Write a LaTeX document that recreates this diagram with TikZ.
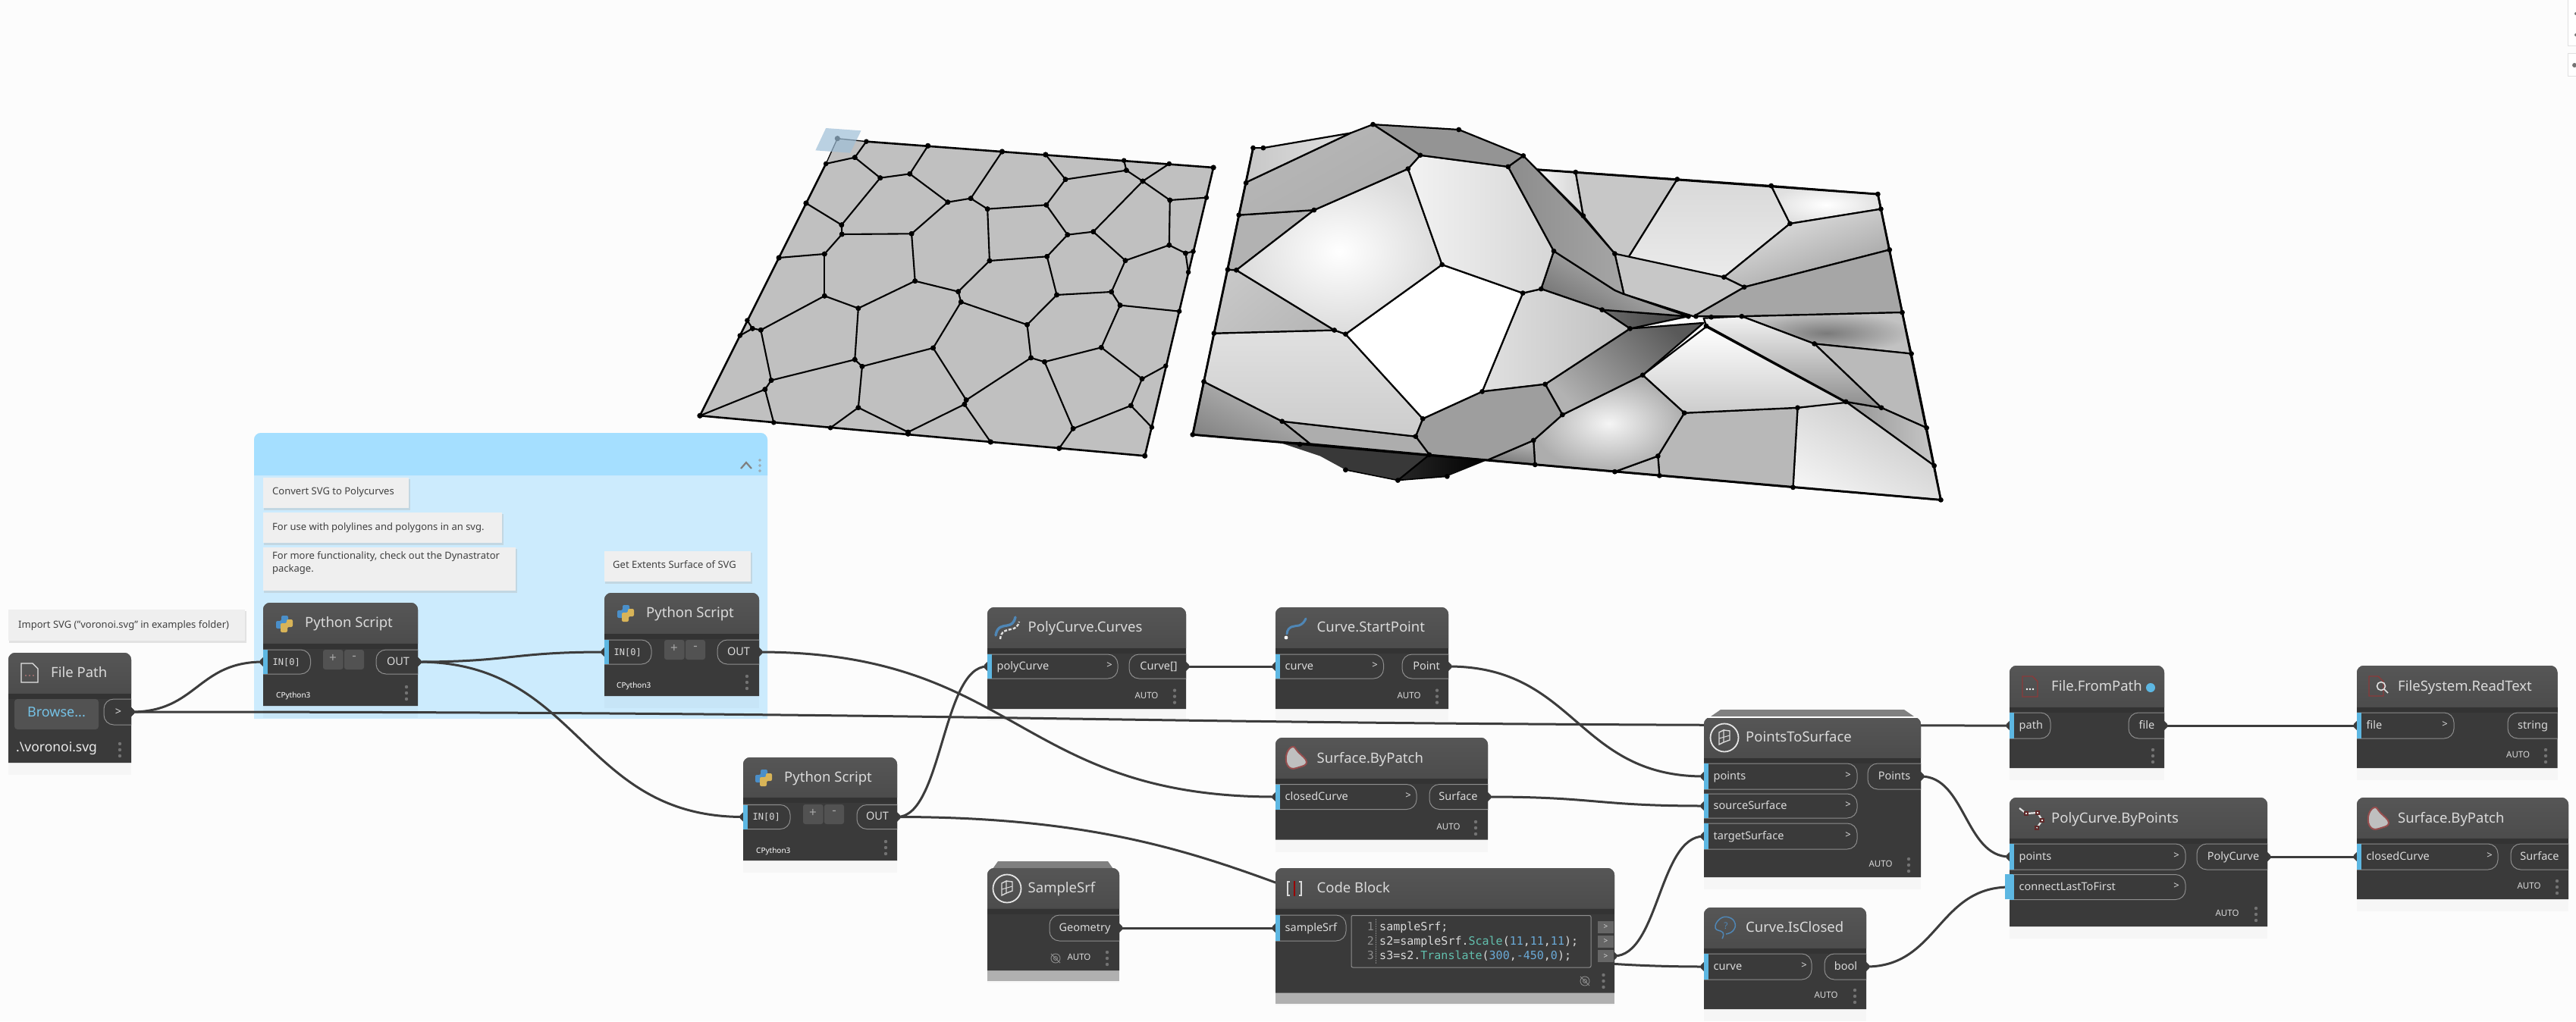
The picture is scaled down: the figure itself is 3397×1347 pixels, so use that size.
\documentclass[tikz,border=0pt]{standalone}
\usepackage{fontspec}
\setmainfont{Noto Sans}
\setmonofont{DejaVu Sans Mono}
\usetikzlibrary{calc}
\pgfdeclarelayer{bg}\pgfdeclarelayer{wirelayer}
\pgfsetlayers{bg,wirelayer,main}
\definecolor{bgc}{HTML}{FCFCFC}
\definecolor{bodyc}{HTML}{3A3A3A}
\definecolor{hdrA}{HTML}{565656}
\definecolor{hdrB}{HTML}{4C4C4C}
\definecolor{stripc}{HTML}{333333}
\definecolor{portblue}{HTML}{5DB7E2}
\definecolor{pillc}{HTML}{8E8E8E}
\definecolor{wirec}{HTML}{3C3C3C}
\definecolor{grpH}{HTML}{A5DFFF}
\definecolor{grpB}{HTML}{CCEBFD}
\definecolor{notec}{HTML}{EFEFEF}
\definecolor{txtc}{HTML}{DADADA}
\definecolor{kwc}{HTML}{62C0AE}
\definecolor{numc}{HTML}{6AAAD8}
\definecolor{pyb}{HTML}{4A8FC9}
\definecolor{pyy}{HTML}{D8B458}
\definecolor{icred}{HTML}{8A3A3A}
\definecolor{icblue}{HTML}{4F86B5}
\definecolor{bandc}{HTML}{B5B5B5}
\definecolor{tabc}{HTML}{808080}
\definecolor{meshfill}{HTML}{C0C0C0}
\definecolor{plane}{HTML}{9FBFD8}
\tikzset{
  ttl/.style={font=\fontsize{18.5}{23}\selectfont,text=txtc,inner sep=0pt,anchor=mid west,yshift=-2.5pt},
  porttxt/.style={font=\fontsize{14.5}{17}\selectfont,text=txtc,inner sep=0pt,yshift=-1.5pt},
  chevtxt/.style={font=\fontsize{13}{15}\bfseries\selectfont,text=txtc,inner sep=0pt,anchor=mid},
  autotxt/.style={font=\fontsize{11.5}{14}\selectfont,text=txtc,inner sep=0pt,anchor=mid},
  cptxt/.style={font=\fontsize{10}{12}\bfseries\selectfont,text=white,inner sep=0pt,anchor=mid west},
  notetxt/.style={font=\fontsize{13}{17}\selectfont,text=black!75,inner sep=0pt,anchor=mid west,align=left,yshift=-1pt},
  codetxt/.style={font=\fontsize{15}{18}\ttfamily\selectfont,text=txtc,inner sep=0pt,anchor=mid west,yshift=-1pt},
  pill/.style={draw=pillc,line width=1pt},
  wire/.style={draw=wirec,line width=3pt},
  mesh/.style={draw=black,line width=2.2pt,line join=round},
  meshthin/.style={draw=black,line width=1.6pt,line join=round},
}
\newcommand\dblock[6]{%
  \fill[black,opacity=.025] (#2,#6) rectangle (#3,{#6+16});
  \fill[bodyc] (#2,#6) [rounded corners=9pt] -- (#2,#4) -- (#3,#4) [sharp corners] -- (#3,#6) -- cycle;
  \path[top color=hdrA,bottom color=hdrB] (#2,#5) [rounded corners=9pt] -- (#2,#4) -- (#3,#4) [sharp corners] -- (#3,#5) -- cycle;
  \fill[stripc] (#2,#5) rectangle (#3,{#5+7});
  \node[inner sep=0pt,minimum width={(#3-#2)*1pt},minimum height={(#6-#4)*1pt}] (#1) at ({(#2+#3)/2},{(#4+#6)/2}) {};
}
\newcommand\inport[6]{%
  \draw[pill,fill=bodyc] (#2,{#4-#5}) [rounded corners=13pt] -- (#3,{#4-#5}) -- (#3,{#4+#5}) [sharp corners] -- (#2,{#4+#5});
  \fill[portblue] (#2,{#4-#5}) rectangle ({#2+5.5},{#4+#5});
  \node[inner sep=0pt,minimum width={(#3-#2)*1pt},minimum height={2*#5*1pt}] (#1) at ({(#2+#3)/2},#4) {};
  \node[porttxt,anchor=mid west] (#1-l) at ({#2+12.5},#4) {#6};
}
\newcommand\outport[7]{%
  \draw[pill,fill=bodyc] (#3,{#4-#5}) [rounded corners=13pt] -- (#2,{#4-#5}) -- (#2,{#4+#5}) [sharp corners] -- (#3,{#4+#5});
  \node[inner sep=0pt,minimum width={(#3-#2)*1pt},minimum height={2*#5*1pt}] (#1) at ({(#2+#3)/2},#4) {};
  \node[porttxt,anchor=mid] (#1-l) at (#7,#4) {#6};
}
\newcommand\chev[2]{\node[chevtxt] at (#1,#2) {>};}
\newcommand\tdots[2]{\fill[black!55] (#1,{#2-8}) circle (2.2pt) (#1,#2) circle (2.2pt) (#1,{#2+8}) circle (2.2pt);}
\newcommand\autol[2]{\node[autotxt] at (#1,#2) {AUTO};}
\newcommand\eyei[2]{\draw[black!45,line width=.9pt] (#1,#2) circle (6pt) (#1,#2) circle (2.5pt) ({#1-6},{#2-6}) -- ({#1+6},{#2+6});}
\newcommand\pmbtn[2]{% x y-top
  \fill[black!68,rounded corners=3pt] (#1,#2) rectangle ({#1+26.5},{#2+26});
  \fill[black!68,rounded corners=3pt] ({#1+28},#2) rectangle ({#1+54},{#2+26});
  \node[font=\fontsize{17}{18}\selectfont,text=black!35,inner sep=0pt] at ({#1+13},{#2+11}) {+};
  \node[font=\fontsize{17}{18}\selectfont,text=black!35,inner sep=0pt] at ({#1+41},{#2+11}) {-};
}
\newcommand\pyicon[2]{\begin{scope}[shift={(#1,#2)}]
  \fill[pyb,rounded corners=2pt] (-4,-11)--(5,-11)--(5,1)--(-3,1)--(-3,6)--(-11,6)--(-11,-4)--(-4,-4)--cycle;
  \fill[pyy,rounded corners=2pt] (4,11)--(-5,11)--(-5,-1)--(3,-1)--(3,-6)--(11,-6)--(11,4)--(4,4)--cycle;
\end{scope}}
\newcommand\ringicon[2]{\begin{scope}[shift={(#1,#2)}]
  \draw[black!10,line width=1.8pt] (0,0) circle (18.5pt);
  \draw[black!15,line width=1.4pt] (-7,-7)--(-1,-10)--(-1,6)--(-7,9)--cycle;
  \draw[black!15,line width=1.4pt] (-1,-10)--(7,-9)--(7,3)--(-1,6);
  \draw[black!15,line width=1pt] (-7,1)--(7,-3);
\end{scope}}
\newcommand\patchicon[2]{\begin{scope}[shift={(#1,#2)}]
  \draw[icred!90,fill=black!25,line width=2pt] plot[smooth cycle,tension=.8] coordinates {(-12,-3) (-4,-15) (4,-8) (15,5) (5,12) (-8,12)};
\end{scope}}
\newcommand\wirex[2]{%
  \draw[wire] let \p1=(#1),\p2=(#2) in (\p1) .. controls ({(\x1+\x2)/2},\y1) and ({(\x1+\x2)/2},\y2) .. (\p2);
  \fill[wirec] let \p1=(#1) in (\x1,\y1) ++(0pt,6pt) -- ++(4pt,-4pt) -- ++(0pt,-4pt) -- ++(-4pt,-4pt) -- cycle;
  \fill[wirec] let \p2=(#2) in (\x2,\y2) ++(0pt,6pt) -- ++(-4pt,-4pt) -- ++(0pt,-4pt) -- ++(4pt,-4pt) -- cycle;
}
\newcommand\notebox[4]{%
  \fill[black!30,opacity=.35] ({#1+1},{#3+2}) rectangle ({#2+2},{#4+3});
  \fill[notec] (#1,#3) rectangle (#2,#4);
}
\newcommand\celld[2]{\path[#1] #2 -- cycle; \draw[mesh] #2 -- cycle;}
\begin{document}
\begin{tikzpicture}[x=1pt,y=-1pt,line cap=butt]
\useasboundingbox (0,0) rectangle (3397,1347);
\begin{pgfonlayer}{bg}
\fill[bgc] (0,0) rectangle (3397,1347);
% top right UI stubs
\draw[black!12,fill=white,line width=1pt] (3397,-2) -- (3386,-2) -- (3386,60) -- (3397,60);
\draw[black!12,fill=white,line width=1pt] (3397,70) -- (3386,70) -- (3386,100) -- (3397,100);
\fill[black!55] (3397,18) circle (2pt) (3397,46) circle (2pt) (3395,86) circle (3pt);
% group
\fill[grpB] (335,948) [rounded corners=9pt] -- (335,571) -- (1012,571) [sharp corners] -- (1012,948) -- cycle;
\fill[grpH] (335,627) [rounded corners=9pt] -- (335,571) -- (1012,571) [sharp corners] -- (1012,627) -- cycle;
\draw[black!50,line width=2.2pt] (977,618) -- (984,610) -- (991,618);
\draw[black!40,line width=.7pt] (1002,607) circle (1.4pt) (1002,614) circle (1.4pt) (1002,621) circle (1.4pt);
\end{pgfonlayer}

%%%% LEFT FLAT SURFACE
\begin{scope}[shift={(900,140)},x=0.4591pt,y=-0.3333pt]
\fill[meshfill] (445,128)--(1525,243)--(1328,1384)--(50,1225)--(412,228)--cycle;
\draw[black,line width=2.6pt,line join=round] (528,140)--(1525,243)--(1328,1384)--(50,1225)--(412,228);
\draw[black,line width=1.3pt] (528,140)--(445,128)--(412,228);
\foreach \ax/\ay/\bx/\by in {528/140/495/203,495/203/412/228,495/203/568/284,568/284/653/268,705/157/653/268,653/268/762/380,762/380/828/365,828/365/918/180,828/365/876/407,876/407/1045/391,1045/391/1100/290,1043/192/1100/290,1100/290/1275/254,1268/215/1275/254,1275/254/1322/297,1398/228/1322/297,1322/297/1400/372,1400/372/1505/362,1400/372/1398/550,1322/297/1180/497,1180/497/1106/509,1045/391/1106/509,1106/509/1047/595,1047/595/882/612,876/407/882/612,882/612/792/734,792/734/668/692,668/692/658/505,658/505/458/507,458/507/457/470,457/470/568/284,457/470/355/384,658/505/762/380,458/507/408/585,408/585/277/600,408/585/408/751,408/751/505/800,505/800/668/692,408/751/225/886,225/886/201/880,201/880/186/848,201/880/165/908,225/886/255/1085,255/1085/495/1003,505/800/495/1003,495/1003/516/1030,516/1030/720/957,720/957/800/775,800/775/792/734,800/775/990/865,990/865/1075/747,1075/747/1047/595,1075/747/1232/735,1232/735/1272/611,1272/611/1180/497,1272/611/1398/550,1398/550/1445/582,1445/582/1467/575,1445/582/1453/657,1232/735/1257/788,1257/788/1427/812,1257/788/1203/955,1203/955/1040/1012,1040/1012/1001/996,990/865/1001/996,1001/996/815/1163,815/1163/720/957,815/1163/810/1180,810/1180/648/1290,648/1290/505/1193,505/1193/516/1030,505/1193/425/1273,810/1180/885/1329,1040/1012/1122/1276,1122/1276/1082/1354,1122/1276/1288/1185,1288/1185/1348/1271,1288/1185/1320/1079,1320/1079/1388/1028,1320/1079/1203/955,255/1085/237/1121,237/1121/50/1225,237/1121/262/1252}
{\draw[black,line width=2.1pt] (\ax,\ay)--(\bx,\by); \fill[black] (\ax,\ay) circle (3.3pt) (\bx,\by) circle (3.3pt);}
\foreach \ax/\ay in {445/128,1525/243,1328/1384,50/1225,1043/192,918/180,705/157,355/384,277/600,648/1297,885/1329,1082/1354}
{\fill[black] (\ax,\ay) circle (3.6pt);}
\fill[plane,opacity=.7] (412,87)--(513,97)--(482,185)--(382,175)--cycle;
\end{scope}

%%%% RIGHT DEFORMED SURFACE
\begin{scope}[shift={(1550,140)},x=0.6698pt,y=-0.3444pt]
% rear cells (behind bulge)
\celld{left color=black!3,right color=black!18}{(712,243)--(788,253)--(803,420)}
\celld{left color=black!22,middle color=black!5,right color=black!22,shading angle=0}{(788,253)--(988,280)--(890,585)--(865,565)--(803,420)}
\celld{top color=black!15,bottom color=black!8}{(988,280)--(1173,305)--(1210,450)--(1080,655)--(890,585)}
\celld{inner color=white,outer color=black!12}{(1173,305)--(1383,337)--(1389,394)--(1210,450)}
\celld{left color=black!10,right color=black!38,shading angle=20}{(1210,450)--(1389,394)--(1406,550)--(1120,693)--(1080,655)}
\celld{fill=black!35}{(1120,693)--(1406,550)--(1431,790)--(1115,805)--(1020,805)}
\celld{inner color=black!52,outer color=black!24}{(1115,805)--(1431,790)--(1449,948)--(1258,910)}
\celld{fill=black!27}{(1258,910)--(1449,948)--(1479,1232)--(1390,1155)}
\celld{left color=black!42,right color=black!22}{(1320,1132)--(1390,1155)--(1479,1232)--(1494,1377)}
\celld{left color=black!22,middle color=black!12,right color=black!5,shading angle=-30}{(1225,1155)--(1320,1132)--(1494,1377)--(1507,1508)--(1216,1460)}
\celld{fill=black!28}{(1002,1175)--(1225,1155)--(1216,1460)--(953,1415)--(950,1340)}
\celld{fill=black!26}{(865,1400)--(950,1340)--(953,1415)}
\celld{left color=black!5,middle color=black!32,right color=black!45,shading angle=0}{(1040,812)--(1115,805)--(1258,910)--(1390,1155)--(1320,1132)--(1045,840)}
\celld{top color=white,middle color=black!4,bottom color=black!20}{(1045,845)--(1320,1135)--(1225,1155)--(1002,1175)--(920,1030)}
\celld{inner color=black!4,outer color=black!32}{(920,1030)--(1002,1175)--(950,1340)--(865,1400)--(708,1373)--(705,1280)--(762,1182)}
\celld{fill=black!22}{(865,565)--(1080,655)--(1120,693)--(1020,805)--(883,720)}
\celld{left color=black!65,middle color=black!72,right color=black!30,shading angle=-45}{(895,852)--(1040,830)--(920,1030)--(762,1182)--(728,1065)}
\celld{left color=black!58,right color=black!75}{(840,780)--(1010,805)--(895,852)}
\celld{left color=black!22,right color=black!55,shading angle=-30}{(745,555)--(865,705)--(883,720)--(1010,805)--(840,780)--(720,700)}
\celld{left color=black!28,right color=black!55,shading angle=-10}{(615,1355)--(705,1280)--(708,1373)}
\celld{left color=black!12,middle color=black!52,right color=black!25}{(684,716)--(720,700)--(840,780)--(895,852)--(728,1065)--(604,1093)}
% hanging dark parts
\path[fill=black!78] (245,1295)--(500,1335)--(438,1433)--(335,1393)--(285,1340)--(200,1285)--cycle;
\path[left color=black!85,right color=black!100] (500,1335)--(615,1355)--(535,1418)--(438,1433)--cycle;
\draw[mesh] (500,1335)--(438,1433);
\draw[meshthin] (438,1433)--(535,1418);
\draw[meshthin] (438,1433)--(335,1393);
% front cells
\celld{fill=black!38}{(487,1197)--(604,1093)--(728,1065)--(762,1182)--(705,1280)--(615,1355)--(500,1335)--(473,1265)}
\celld{fill=black!32}{(210,1207)--(473,1265)--(500,1335)--(265,1293)}
\celld{left color=black!25,right color=black!48,shading angle=-25}{(56,1055)--(210,1207)--(265,1293)--(197,1285)--(34,1258)}
\celld{top color=black!12,bottom color=black!20}{(76,870)--(313,858)--(335,873)--(487,1197)--(473,1265)--(210,1207)--(56,1055)}
\celld{fill=white}{(525,607)--(684,716)--(604,1093)--(487,1197)--(335,873)}
\celld{left color=black!22,right color=black!28,shading angle=40}{(103,626)--(120,628)--(313,858)--(76,870)}
\celld{fill=black!30}{(125,417)--(273,398)--(120,628)--(103,626)}
\celld{inner color=white,outer color=black!14}{(458,240)--(525,607)--(335,873)--(313,858)--(120,628)--(273,398)}
\celld{left color=black!5,right color=black!16}{(482,188)--(655,232)--(745,555)--(720,700)--(684,716)--(525,607)--(458,240)}
\celld{left color=black!45,right color=black!35}{(655,232)--(685,190)--(712,243)--(800,420)--(865,565)--(883,720)--(865,705)--(745,555)}
\celld{fill=black!42}{(389,70)--(558,90)--(685,190)--(655,232)--(482,188)}
\celld{left color=black!28,middle color=black!16,right color=black!32,shading angle=30}{(139,292)--(345,103)--(389,70)--(482,188)--(458,240)--(273,398)--(125,417)}
\celld{left color=black!22,right color=black!12}{(153,160)--(173,160)--(345,103)--(139,292)}
% heavy outline
\draw[black,line width=2.8pt,line join=round] (712,243)--(1383,337)--(1507,1508)--(34,1258)--(153,160);
\foreach \ax/\ay in {153/160,173/160,389/70,558/90,685/190,482/188,655/232,458/240,139/294,125/417,273/398,103/626,120/628,525/607,684/716,720/700,745/555,313/858,335/873,76/870,56/1055,34/1258,487/1197,473/1265,210/1207,245/1295,500/1335,438/1433,335/1393,535/1418,604/1093,728/1065,762/1182,705/1280,708/1373,865/1400,950/1340,953/1415,1216/1460,1507/1508,1494/1377,1479/1232,1449/948,1431/790,1406/550,1389/394,1383/337,1173/305,988/280,788/253,1210/450,1080/655,1120/693,865/565,803/420,840/780,895/852,1010/805,1025/805,1055/808,1115/805,1045/842,1258/910,920/1030,1002/1175,1225/1155,1320/1132,1390/1155}
{\fill[black] (\ax,\ay) circle (3.4pt);}
\end{scope}

%%%% NOTES
\notebox{11}{323}{804}{845}
\node[notetxt] (n1) at (24,825) {Import SVG ("voronoi.svg" in examples folder)};
\notebox{347}{539}{630}{670}
\node[notetxt] (n2) at (359,649) {Convert SVG to Polycurves};
\notebox{347}{662}{676}{716}
\node[notetxt] (n3) at (359,696) {For use with polylines and polygons in an svg.};
\notebox{347}{680}{722}{779}
\node[notetxt] (n4) at (359,750.5) {For more functionality, check out the Dynastrator\\package.};
\notebox{797}{989.5}{727}{767}
\node[notetxt] (n5) at (808,746) {Get Extents Surface of SVG};

%%%% FILE PATH
\dblock{fp}{11}{173}{861}{915}{1006}
\draw[white!90!black,line width=1.2pt] (28,875)--(43,875)--(50,882)--(50,900)--(28,900)--cycle;
\fill[icred!70!white] (34,891) circle (1.2pt) (39,891) circle (1.2pt) (44,891) circle (1.2pt);
\node[ttl] (fpt) at (67,888) {File Path};
\fill[black!68,rounded corners=4pt] (19,922) rectangle (130,962);
\node[font=\fontsize{18}{20}\selectfont,text=portblue!85!white,inner sep=0pt,anchor=mid,yshift=-1.5pt] (fpb) at (74.5,941) {Browse...};
\outport{fpo}{137}{173}{939}{17}{>}{156}
\node[font=\fontsize{17.5}{20}\selectfont,text=white!92!black,inner sep=0pt,anchor=mid west,yshift=-1.5pt] (fpv) at (21,987) {.\textbackslash voronoi.svg};
\tdots{158}{989}

%%%% PYTHON 1
\dblock{pa}{347}{551}{795}{849}{931}
\pyicon{375}{823}
\node[ttl] (pat) at (402,822) {Python Script};
\inport{pai}{347}{409.5}{873}{16}{\fontsize{12}{14}\ttfamily\selectfont IN[0]}
\pmbtn{426}{857}
\outport{pao}{496}{551}{873}{16}{OUT}{525}
\node[cptxt] (pac) at (364,918) {CPython3};
\tdots{536}{914}

%%%% PYTHON 2
\dblock{pb}{797}{1001}{782}{836}{918}
\pyicon{825}{809}
\node[ttl] (pbt) at (852,809) {Python Script};
\inport{pbi}{797}{859}{860}{16}{\fontsize{12}{14}\ttfamily\selectfont IN[0]}
\pmbtn{876}{844}
\outport{pbo}{946}{1001}{860}{16}{OUT}{974}
\node[cptxt] (pbc) at (813,905) {CPython3};
\tdots{985}{900}

%%%% PYTHON 3
\dblock{pc}{980}{1183}{999}{1052}{1135}
\pyicon{1007}{1026}
\node[ttl] (pct) at (1034,1026) {Python Script};
\inport{pci}{980}{1042}{1077.5}{16}{\fontsize{12}{14}\ttfamily\selectfont IN[0]}
\pmbtn{1059}{1061}
\outport{pco}{1130}{1183}{1077.5}{16}{OUT}{1157}
\node[cptxt] (pcc) at (997,1122.5) {CPython3};
\tdots{1168}{1118}

%%%% POLYCURVE.CURVES
\dblock{pcv}{1302}{1564}{801}{855}{935}
\draw[icblue,line width=3.4pt,line cap=round] (1313,838) .. controls (1315,826) and (1322,826) .. (1328,825) .. controls (1334,824) and (1337,822) .. (1339,814);
\draw[white!88!black,line width=2.4pt,dash pattern=on 4pt off 2pt] (1319,843) .. controls (1320,832) and (1327,831) .. (1333,830) .. controls (1339,829) and (1342,827) .. (1344,820);
\node[ttl] (pcvt) at (1355.5,828.6) {PolyCurve.Curves};
\inport{pcvi}{1302}{1474}{879}{16}{polyCurve}
\chev{1463}{879}
\outport{pcvo}{1489}{1564}{879}{16}{Curve[]}{1528}
\autol{1512}{918.6}
\tdots{1549}{918.6}

%%%% CURVE.STARTPOINT
\dblock{csp}{1682}{1910}{801}{855}{935}
\draw[icblue,line width=3pt,line cap=round] (1697,836) .. controls (1698,825) and (1708,826) .. (1713,825) .. controls (1718,823) and (1720,820) .. (1722,816);
\fill[white] (1696,841) circle (2.4pt);
\node[ttl] (cspt) at (1736.5,828.6) {Curve.StartPoint};
\inport{cspi}{1682}{1824.5}{879}{16}{curve}
\chev{1813}{879}
\outport{cspo}{1849}{1910}{879}{16}{Point}{1881}
\autol{1858}{918.6}
\tdots{1895}{918.6}

%%%% SURFACE.BYPATCH 1
\dblock{sbp}{1682}{1962}{973}{1027}{1107.5}
\patchicon{1708}{1000}
\node[ttl] (sbpt) at (1736.5,1001) {Surface.ByPatch};
\inport{sbpi}{1682}{1868}{1051}{16.5}{closedCurve}
\chev{1857}{1051}
\outport{sbpo}{1885}{1962}{1051}{16.5}{Surface}{1923}
\autol{1910}{1092}
\tdots{1946}{1092}

%%%% SAMPLESRF
\fill[tabc] (1316,1136) -- (1461,1136) -- (1468,1146) -- (1309,1146) -- cycle;
\fill[bandc] (1302,1280) rectangle (1476,1294);
\dblock{sam}{1302}{1476}{1145}{1198.6}{1280}
\ringicon{1328}{1172}
\node[ttl] (samt) at (1355.5,1172) {SampleSrf};
\outport{samo}{1384}{1476}{1224}{17}{Geometry}{1430.5}
\eyei{1392}{1264}
\autol{1423}{1264}
\tdots{1460}{1264}

%%%% CODE BLOCK
\fill[bandc] (1682,1309) rectangle (2129,1324);
\dblock{cb}{1682}{2129}{1145}{1198.6}{1309.6}
\draw[white!85!black,line width=1.6pt] (1701,1163)--(1698,1163)--(1698,1181)--(1701,1181);
\draw[white!85!black,line width=1.6pt] (1713,1163)--(1716,1163)--(1716,1181)--(1713,1181);
\draw[red!60!black,line width=2.5pt] (1707,1162)--(1707,1182);
\node[ttl] (cbt) at (1736.5,1172) {Code Block};
\inport{cbi}{1682}{1775}{1224}{17}{sampleSrf}
\draw[pill,rounded corners=2pt] (1782,1207.5) rectangle (2098,1276);
\draw[black!50,line width=.8pt,dash pattern=on 1.5pt off 1.5pt] (1814.6,1212) -- (1814.6,1272);
\node[codetxt,text=black!45,anchor=mid east] at (1812,1223.5) {1};
\node[codetxt,text=black!45,anchor=mid east] at (1812,1243) {2};
\node[codetxt,text=black!45,anchor=mid east] at (1812,1262) {3};
\node[codetxt] (cl1) at (1819,1223.5) {sampleSrf;};
\node[codetxt] (cl2) at (1819,1243) {s2=sampleSrf.\textcolor{kwc}{Scale}(\textcolor{numc}{11},\textcolor{numc}{11},\textcolor{numc}{11});};
\node[codetxt] (cl3) at (1819,1262) {s3=s2.\textcolor{kwc}{Translate}(\textcolor{numc}{300},\textcolor{numc}{-450},\textcolor{numc}{0});};
\foreach \nm/\yc in {cba/1222.5,cbb/1241.5,cbc/1261}{
  \node[fill=black!60,minimum width=21pt,minimum height=16pt,inner sep=0pt,text=txtc,font=\fontsize{10}{12}\bfseries\selectfont] (\nm) at (2117.5,\yc) {>};
}
\eyei{2090}{1294}
\tdots{2114.5}{1294}

%%%% POINTSTOSURFACE
\fill[tabc] (2269,936) -- (2511,936) -- (2524,945) -- (2256,945) -- cycle;
\dblock{pts}{2247}{2533}{946}{1000}{1157}
\draw[white,line width=1.2pt] (2252,946) -- (2528,946);
\ringicon{2274}{973}
\node[ttl] (ptst) at (2302,973) {PointsToSurface};
\inport{ptsa}{2247}{2449}{1024}{17}{points}
\chev{2437}{1024}
\inport{ptsb}{2247}{2449}{1063}{16}{sourceSurface}
\chev{2437}{1063}
\inport{ptsc}{2247}{2449}{1103}{17}{targetSurface}
\chev{2437}{1103}
\outport{ptso}{2463}{2533}{1024}{17}{Points}{2498}
\autol{2480}{1141}
\tdots{2517}{1141}

%%%% CURVE.ISCLOSED
\dblock{cic}{2247}{2461}{1197}{1251}{1331}
\draw[icblue,line width=1.5pt] plot[smooth,tension=.8] coordinates {(2271,1238) (2272,1230) (2262,1224) (2268,1212) (2280,1210) (2288,1218) (2285,1228) (2276,1232)};
\node[font=\fontsize{12}{14}\selectfont,text=icblue,inner sep=0pt] at (2276,1221) {?};
\node[ttl] (cict) at (2302,1224) {Curve.IsClosed};
\inport{cici}{2247}{2389}{1275}{17}{curve}
\chev{2379}{1275}
\outport{cico}{2406}{2461}{1275}{17}{bool}{2434}
\autol{2408}{1314}
\tdots{2446}{1314}

%%%% FILE.FROMPATH
\dblock{ffp}{2650}{2854}{878}{933}{1013}
\draw[icred,line width=1.4pt] (2667,892)--(2680,892)--(2687,899)--(2687,919)--(2667,919)--cycle;
\fill[white] (2673,909) circle (1.3pt) (2677,909) circle (1.3pt) (2681,909) circle (1.3pt);
\node[ttl] (ffpt) at (2705,906) {File.FromPath};
\fill[portblue] (2836,907) circle (6pt);
\inport{ffpi}{2650}{2704}{957}{17}{path}
\outport{ffpo}{2807}{2854}{957}{17}{file}{2831}
\tdots{2839}{997}

%%%% FILESYSTEM.READTEXT
\dblock{frt}{3108}{3372.5}{878}{933}{1013}
\draw[icred,line width=1.4pt] (3124,892)--(3136,892)--(3143,899)--(3143,918)--(3124,918)--cycle;
\draw[white!88!black,line width=1.6pt] (3140,905) circle (5.5pt) (3144,909)--(3149,914);
\node[ttl] (frtt) at (3162,906) {FileSystem.ReadText};
\inport{frti}{3108}{3236}{957}{17}{file}
\chev{3224}{957}
\outport{frto}{3307}{3372.5}{957}{17}{string}{3340}
\autol{3320.6}{997}
\tdots{3357}{997}

%%%% POLYCURVE.BYPOINTS
\dblock{pbp}{2650}{2990}{1052}{1106}{1222}
\draw[white!90!black,line width=2.2pt] (2663,1066)--(2672,1073)--(2687,1072)--(2693,1082)--(2686,1092);
\foreach \ix/\iy in {2672/1073,2687/1072,2693/1082,2686/1092}{\draw[icred!70!black,line width=1.2pt] ({\ix-2},{\iy-2}) rectangle ({\ix+2},{\iy+2});}
\node[ttl] (pbpt) at (2705,1080) {PolyCurve.ByPoints};
\inport{pbpa}{2650}{2882}{1130}{17}{points}
\chev{2870}{1130}
\inport{pbpb}{2650}{2882}{1170}{16.5}{connectLastToFirst}
\fill[portblue] (2644,1153) rectangle (2655,1186);
\chev{2870}{1170}
\outport{pbpo}{2897}{2990}{1130}{17}{PolyCurve}{2945}
\autol{2937}{1206}
\tdots{2975}{1206}

%%%% SURFACE.BYPATCH 2
\dblock{sbq}{3108}{3387}{1052}{1106}{1186}
\patchicon{3135}{1080}
\node[ttl] (sbqt) at (3162,1080) {Surface.ByPatch};
\inport{sbqi}{3108}{3294}{1130}{17}{closedCurve}
\chev{3283}{1130}
\outport{sbqo}{3311}{3387}{1130}{17}{Surface}{3349}
\autol{3335}{1170}
\tdots{3372}{1170}

%%%% WIRES
\begin{pgfonlayer}{wirelayer}
\wirex{fpo.east}{pai.west}
\wirex{fpo.east}{ffpi.west}
\wirex{pao.east}{pbi.west}
\wirex{pao.east}{pci.west}
\wirex{pbo.east}{sbpi.west}
\wirex{pco.east}{pcvi.west}
\wirex{pco.east}{cici.west}
\wirex{pcvo.east}{cspi.west}
\wirex{cspo.east}{ptsa.west}
\wirex{sbpo.east}{ptsb.west}
\wirex{samo.east}{cbi.west}
\wirex{cbc.east}{ptsc.west}
\wirex{ptso.east}{pbpa.west}
\wirex{cico.east}{pbpb.west}
\wirex{pbpo.east}{sbqi.west}
\wirex{ffpo.east}{frti.west}
\end{pgfonlayer}
\end{tikzpicture}
\end{document}
